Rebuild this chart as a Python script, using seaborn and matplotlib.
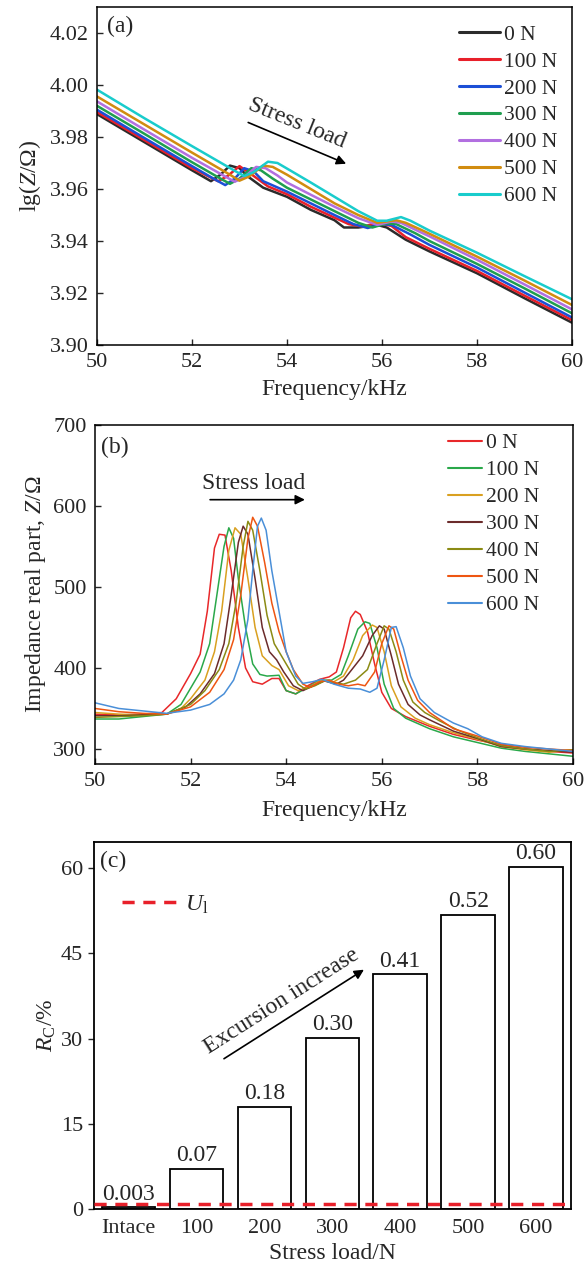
import numpy as np
import pandas as pd
import matplotlib
matplotlib.use("Agg")
import matplotlib.pyplot as plt
import seaborn as sns

# ---------------- data: panel (a) lg(Z) ----------------
loads_a = ["0 N", "100 N", "200 N", "300 N", "400 N", "500 N", "600 N"]
colors_a = ["#2b2b2b", "#e8202a", "#1c4fd6", "#1f9e4f", "#b26fe0", "#d18c10", "#19cccc"]

fa_0 = [50, 51, 52, 52.4, 52.6, 52.8, 53.0, 53.2, 53.5, 54, 54.5, 55, 55.2, 55.5, 55.9, 56.1, 56.5, 57, 58, 59, 60]
za_0 = [3.9888, 3.9780, 3.9672, 3.9630, 3.9655, 3.9690, 3.9680, 3.9645, 3.9605, 3.9570, 3.9520, 3.9480,
        3.9452, 3.9452, 3.9462, 3.9452, 3.9405, 3.9360, 3.9276, 3.9180, 3.9086]
fa_100 = [50, 51, 52, 52.55, 52.75, 53.0, 53.3, 53.6, 54, 54.5, 55, 55.3, 55.6, 55.9, 56.2, 56.5, 57, 58, 59, 60]
za_100 = [3.9896, 3.9788, 3.9680, 3.9630, 3.9650, 3.9688, 3.9650, 3.9610, 3.9580, 3.9532, 3.9490, 3.9465,
          3.9455, 3.9470, 3.9458, 3.9415, 3.9370, 3.9285, 3.9190, 3.9096]
fa_200 = [50, 51, 52, 52.5, 52.7, 52.9, 53.1, 53.3, 53.5, 54, 54.5, 55, 55.4, 55.7, 56.0, 56.2, 56.6, 57, 58, 59, 60]
za_200 = [3.9905, 3.9796, 3.9688, 3.9635, 3.9615, 3.9640, 3.9680, 3.9668, 3.9630, 3.9590, 3.9545, 3.9500,
          3.9465, 3.9450, 3.9465, 3.9462, 3.9425, 3.9385, 3.9298, 3.9202, 3.9106]
fa_300 = [50, 51, 52, 52.6, 52.8, 53.0, 53.25, 53.45, 53.7, 54, 54.5, 55, 55.5, 55.8, 56.1, 56.3, 56.7, 57, 58, 59, 60]
za_300 = [3.9920, 3.9812, 3.9703, 3.9640, 3.9620, 3.9640, 3.9680, 3.9672, 3.9640, 3.9605, 3.9560, 3.9515,
          3.9470, 3.9452, 3.9468, 3.9465, 3.9430, 3.9400, 3.9312, 3.9218, 3.9122]
fa_400 = [50, 51, 52, 52.7, 52.9, 53.1, 53.35, 53.55, 53.8, 54, 54.5, 55, 55.5, 55.9, 56.2, 56.4, 56.8, 57, 58, 59, 60]
za_400 = [3.9937, 3.9828, 3.9720, 3.9648, 3.9628, 3.9645, 3.9685, 3.9680, 3.9652, 3.9625, 3.9578, 3.9532,
          3.9488, 3.9462, 3.9475, 3.9470, 3.9435, 3.9418, 3.9328, 3.9233, 3.9137]
fa_500 = [50, 51, 52, 52.8, 53.0, 53.2, 53.5, 53.7, 54, 54.5, 55, 55.5, 55.9, 56.3, 56.5, 56.8, 57, 58, 59, 60]
za_500 = [3.9956, 3.9848, 3.9740, 3.9655, 3.9632, 3.9648, 3.9690, 3.9685, 3.9655, 3.9600, 3.9545, 3.9500,
          3.9470, 3.9480, 3.9470, 3.9445, 3.9428, 3.9340, 3.9248, 3.9154]
fa_600 = [50, 51, 52, 52.9, 53.1, 53.3, 53.6, 53.8, 54.1, 54.5, 55, 55.5, 55.9, 56.1, 56.4, 56.6, 57, 58, 59, 60]
za_600 = [3.9982, 3.9872, 3.9765, 3.9670, 3.9650, 3.9665, 3.9705, 3.9700, 3.9668, 3.9625, 3.9570, 3.9515,
          3.9478, 3.9478, 3.9492, 3.9478, 3.9440, 3.9355, 3.9265, 3.9176]

# ---------------- data: panel (b) real part ----------------
loads_b = ["0 N", "100 N", "200 N", "300 N", "400 N", "500 N", "600 N"]
colors_b = ["#e8282a", "#2aa84a", "#d9a020", "#6b2b2b", "#8b8b14", "#ee5512", "#4a8fd8"]

fb_0 = [50, 50.5, 51, 51.4, 51.7, 52.0, 52.2, 52.35, 52.5, 52.6, 52.72, 52.85, 53.0, 53.15, 53.3, 53.5, 53.7,
        53.85, 54.0, 54.2, 54.45, 54.7, 54.9, 55.05, 55.2, 55.35, 55.45, 55.55, 55.7, 55.85, 56.0, 56.2, 56.5,
        57.0, 57.5, 58.0, 58.5, 59.0, 59.5, 60]
rb_0 = [343, 342, 343, 345, 362, 393, 417, 470, 548, 565, 564, 520, 450, 400, 383, 380, 387,
        387, 372, 368, 378, 386, 389, 395, 425, 462, 470, 466, 445, 405, 370, 350, 340,
        328, 318, 311, 305, 300, 297, 295]
fb_100 = [50, 50.5, 51, 51.5, 51.8, 52.0, 52.2, 52.4, 52.55, 52.7, 52.8, 52.9, 53.0, 53.15, 53.3, 53.45, 53.6,
          53.85, 54.0, 54.2, 54.45, 54.7, 54.95, 55.15, 55.3, 55.5, 55.65, 55.75, 55.9, 56.05, 56.25, 56.5,
          57.0, 57.5, 58.0, 58.5, 59.0, 59.5, 60]
rb_100 = [337, 337, 340, 343, 355, 375, 395, 430, 490, 550, 573, 560, 510, 450, 405, 392, 390,
          391, 372, 368, 376, 385, 385, 392, 415, 448, 457, 455, 425, 380, 350, 338,
          325, 315, 308, 301, 297, 294, 291]
fb_200 = [50, 50.5, 51, 51.5, 51.8, 52.0, 52.3, 52.5, 52.65, 52.8, 52.93, 53.05, 53.2, 53.35, 53.5, 53.7, 53.85,
          54.05, 54.25, 54.5, 54.7, 55.0, 55.2, 55.4, 55.6, 55.8, 55.9, 56.05, 56.2, 56.4, 56.7, 57.0,
          57.5, 58.0, 58.5, 59.0, 59.5, 60]
rb_200 = [345, 343, 342, 343, 350, 362, 385, 420, 470, 545, 573, 565, 510, 450, 415, 403, 398,
          378, 372, 377, 384, 383, 390, 410, 440, 453, 450, 420, 378, 352, 338, 330,
          320, 312, 303, 299, 296, 299]
fb_300 = [50, 50.5, 51, 51.5, 51.9, 52.2, 52.5, 52.7, 52.85, 53.0, 53.1, 53.2, 53.35, 53.5, 53.65, 53.8, 53.95,
          54.15, 54.35, 54.6, 54.8, 55.05, 55.2, 55.4, 55.6, 55.8, 55.95, 56.05, 56.2, 56.35, 56.55, 56.8,
          57.0, 57.5, 58.0, 58.5, 59.0, 59.5, 60]
rb_300 = [341, 341, 342, 343, 352, 368, 393, 430, 490, 555, 575, 565, 510, 450, 420, 410, 395,
          378, 372, 379, 384, 380, 385, 400, 415, 440, 452, 448, 415, 380, 355, 342,
          336, 322, 313, 303, 300, 298, 296]
fb_400 = [50, 50.5, 51, 51.5, 52.0, 52.3, 52.6, 52.8, 52.95, 53.1, 53.2, 53.3, 53.45, 53.6, 53.75, 53.9, 54.05,
          54.25, 54.4, 54.6, 54.8, 55.0, 55.2, 55.45, 55.7, 55.9, 56.05, 56.15, 56.3, 56.45, 56.65, 56.9,
          57.2, 57.6, 58.0, 58.5, 59.0, 59.5, 60]
rb_400 = [339, 340, 341, 343, 355, 372, 398, 430, 480, 550, 581, 570, 520, 465, 430, 415, 400,
          380, 374, 378, 384, 382, 380, 385, 398, 430, 452, 448, 420, 385, 358, 345,
          335, 323, 314, 304, 300, 297, 299]
fb_500 = [50, 50.5, 51, 51.5, 52.0, 52.4, 52.7, 52.9, 53.05, 53.2, 53.3, 53.4, 53.55, 53.7, 53.85, 54.0, 54.15,
          54.35, 54.5, 54.7, 54.9, 55.1, 55.3, 55.5, 55.65, 55.85, 56.0, 56.15, 56.25, 56.4, 56.55, 56.75,
          57.0, 57.5, 58.0, 58.5, 59.0, 59.5, 60]
rb_500 = [350, 346, 344, 343, 352, 370, 398, 435, 490, 560, 586, 575, 530, 480, 445, 420, 398,
          380, 376, 383, 385, 380, 378, 380, 378, 395, 430, 452, 448, 415, 385, 360,
          345, 325, 316, 306, 302, 300, 298]
fb_600 = [50, 50.5, 51, 51.5, 52.0, 52.4, 52.7, 52.9, 53.05, 53.2, 53.3, 53.4, 53.48, 53.58, 53.7, 53.85, 54.0,
          54.2, 54.35, 54.55, 54.75, 55.0, 55.3, 55.55, 55.75, 55.9, 56.05, 56.2, 56.3, 56.45, 56.6, 56.8,
          57.1, 57.5, 57.8, 58.1, 58.5, 59.0, 59.5, 60]
rb_600 = [357, 350, 347, 344, 348, 355, 368, 385, 410, 460, 520, 575, 585, 570, 520, 470, 420,
          390, 381, 383, 386, 380, 375, 374, 370, 375, 410, 450, 451, 425, 390, 362,
          345, 332, 325, 315, 307, 303, 300, 297]

# ---------------- data: panel (c) bars ----------------
categories_c = ["Intace", "100", "200", "300", "400", "500", "600"]
rc_values = [0.3, 7.0, 18.0, 30.1, 41.3, 51.8, 60.2]
rc_labels = ["0.003", "0.07", "0.18", "0.30", "0.41", "0.52", "0.60"]
u_limit = 0.8

# ---------------- style ----------------
sns.set_theme(style="ticks")
plt.rcParams["font.family"] = ["Liberation Serif", "DejaVu Serif"]
plt.rcParams["mathtext.fontset"] = "custom"
plt.rcParams["mathtext.rm"] = "Liberation Serif"
plt.rcParams["mathtext.it"] = "Liberation Serif:italic"
plt.rcParams["axes.linewidth"] = 1.1
plt.rcParams["axes.edgecolor"] = "black"

TICK = 16
LABEL = 17
LEG = 15.5

fig = plt.figure(figsize=(5.87, 12.68), dpi=100)
ax_a = fig.add_axes([0.1652, 0.7279, 0.8092, 0.2666])
ax_b = fig.add_axes([0.1618, 0.3975, 0.8143, 0.2674])
ax_c = fig.add_axes([0.1601, 0.0465, 0.8121, 0.2894])


def long_frame(fs, vs, names):
    parts = []
    for f, v, n in zip(fs, vs, names):
        parts.append(pd.DataFrame({"freq": f, "val": v, "load": n}))
    return pd.concat(parts, ignore_index=True)


# ---- panel (a)
df_a = long_frame([fa_0, fa_100, fa_200, fa_300, fa_400, fa_500, fa_600],
                  [za_0, za_100, za_200, za_300, za_400, za_500, za_600], loads_a)
sns.lineplot(data=df_a, x="freq", y="val", hue="load", hue_order=loads_a,
             palette=colors_a, estimator=None, sort=False, linewidth=1.8, ax=ax_a)
ax_a.set_xlim(50, 60)
ax_a.set_ylim(3.90, 4.03)
ax_a.set_xticks(np.arange(50, 61, 2))
ax_a.set_yticks(np.arange(3.90, 4.021, 0.02))
ax_a.yaxis.set_major_formatter(matplotlib.ticker.FormatStrFormatter("%.2f"))
ax_a.set_xlabel("Frequency/kHz", fontsize=LABEL, labelpad=5)
ax_a.set_ylabel("lg($Z$/Ω)", fontsize=LABEL, labelpad=5)
ax_a.text(0.022, 0.975, "(a)", transform=ax_a.transAxes, fontsize=LABEL, va="top", ha="left")
ax_a.annotate("", xy=(55.3, 3.9693), xytext=(53.13, 3.9860),
              arrowprops=dict(arrowstyle="-|>", color="black", lw=1.2, mutation_scale=14))
ax_a.text(54.2, 3.9852, "Stress load", rotation=-22, rotation_mode="anchor",
          fontsize=LABEL, ha="center", va="center")
sns.move_legend(ax_a, "upper right", bbox_to_anchor=(0.97, 0.948), frameon=False, title=None,
                fontsize=LEG, handlelength=1.9, handletextpad=0.2, labelspacing=0.32,
                borderpad=0, borderaxespad=0)
for ln in ax_a.get_legend().get_lines():
    ln.set_linewidth(2.2)

# ---- panel (b)
df_b = long_frame([fb_0, fb_100, fb_200, fb_300, fb_400, fb_500, fb_600],
                  [rb_0, rb_100, rb_200, rb_300, rb_400, rb_500, rb_600], loads_b)
sns.lineplot(data=df_b, x="freq", y="val", hue="load", hue_order=loads_b,
             palette=colors_b, estimator=None, sort=False, linewidth=1.1, ax=ax_b)
ax_b.set_xlim(50, 60)
ax_b.set_ylim(281.5, 700)
ax_b.set_xticks(np.arange(50, 61, 2))
ax_b.set_yticks([300, 400, 500, 600, 700])
ax_b.set_xlabel("Frequency/kHz", fontsize=LABEL, labelpad=6)
ax_b.set_ylabel("Impedance real part, $Z$/Ω", fontsize=LABEL, labelpad=4)
ax_b.text(0.012, 0.965, "(b)", transform=ax_b.transAxes, fontsize=LABEL, va="top", ha="left")
ax_b.annotate("", xy=(54.45, 607.7), xytext=(52.35, 607.7),
              arrowprops=dict(arrowstyle="-|>", color="black", lw=1.2, mutation_scale=14))
ax_b.text(53.32, 628, "Stress load", fontsize=LABEL, ha="center", va="center")
sns.move_legend(ax_b, "upper right", bbox_to_anchor=(0.93, 0.975), frameon=False, title=None,
                fontsize=LEG, handlelength=1.6, handletextpad=0.2, labelspacing=0.32,
                borderpad=0, borderaxespad=0)
for ln in ax_b.get_legend().get_lines():
    ln.set_linewidth(1.5)

for ax in (ax_a, ax_b):
    ax.tick_params(axis="both", direction="in", length=4.5, width=1.0, labelsize=TICK, pad=6,
                   top=False, right=False)
    for s in ax.spines.values():
        s.set_visible(True)
        s.set_linewidth(1.1)

# ---- panel (c)
df_c = pd.DataFrame({"cat": categories_c, "rc": rc_values})
sns.barplot(data=df_c, x="cat", y="rc", order=categories_c, fill=False, color="black",
            width=0.79, linewidth=1.3, ax=ax_c, errorbar=None)
for p in ax_c.patches:
    p.set_edgecolor("black")
ax_c.bar_label(ax_c.containers[0], labels=rc_labels, padding=2, fontsize=LABEL)
ln_u = ax_c.axhline(u_limit, color="#e8202a", linestyle=(0, (3.5, 2.5)), linewidth=2.5,
                    label="$U_\\mathrm{l}$", zorder=3)
ax_c.legend(handles=[ln_u], loc="upper left", bbox_to_anchor=(0.058, 0.86), frameon=False,
            fontsize=LABEL, handlelength=2.3, handletextpad=0.4, borderpad=0, borderaxespad=0)
ax_c.set_xlim(-0.51, 6.51)
ax_c.set_ylim(0, 64.6)
ax_c.set_yticks([0, 15, 30, 45, 60])
ax_c.set_xlabel("Stress load/N", fontsize=LABEL, labelpad=4)
ax_c.set_ylabel("$R_\\mathrm{C}$/%", fontsize=LABEL, labelpad=2)
ax_c.text(0.012, 0.975, "(c)", transform=ax_c.transAxes, fontsize=LABEL, va="top", ha="left")
ax_c.annotate("", xy=(3.5, 42.4), xytext=(1.37, 26.2),
              arrowprops=dict(arrowstyle="-|>", color="black", lw=1.2, mutation_scale=14))
ax_c.text(2.26, 36.6, "Excursion increase", rotation=32.5, rotation_mode="anchor",
          fontsize=LABEL, ha="center", va="center")
ax_c.tick_params(axis="y", direction="out", length=4, width=1.0, labelsize=TICK, pad=4)
ax_c.tick_params(axis="x", length=0, labelsize=TICK, pad=7)
for s in ax_c.spines.values():
    s.set_visible(True)
    s.set_linewidth(1.3)

fig.savefig("out.png", dpi=100)
